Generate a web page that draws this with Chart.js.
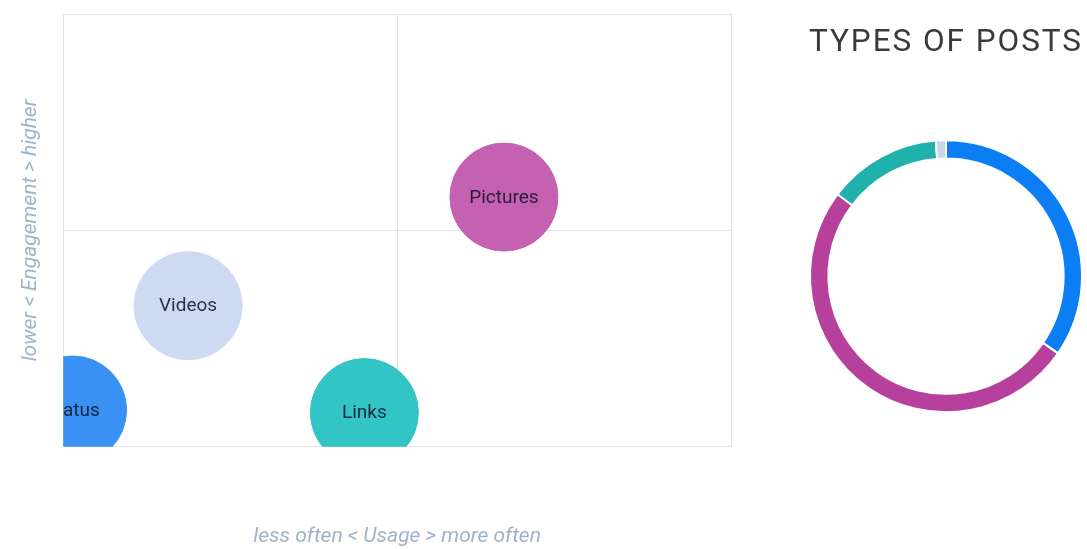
<!DOCTYPE html>
<html>
<head>
<meta charset="utf-8">
<script src="https://cdn.jsdelivr.net/npm/chart.js@4.4.1/dist/chart.umd.min.js"></script>
<style>
  body { margin: 0; background: #fff; }
  #bubble-wrap { position: absolute; left: 0; top: 0; width: 760px; height: 549px; }
  #donut-wrap { position: absolute; left: 805px; top: 0; width: 282px; height: 549px; }
</style>
</head>
<body>
<div id="bubble-wrap"><canvas id="bubble-chart"></canvas></div>
<div id="donut-wrap"><canvas id="donut-chart"></canvas></div>
<script>
// bubble data: usage (x), engagement (y), bubble size
const postTypes = ['Status', 'Pictures', 'Videos', 'Links'];
const usage = [1.4, 66, 18.7, 45.1];
const engagement = [8.5, 57.7, 32.6, 7.9];
const bubbleSize = [54, 54, 54, 54];

// doughnut data: share of posts by type
const shareLabels = ['Status', 'Pictures', 'Links', 'Videos'];
const shareValues = [34.6, 50.7, 13.5, 1.2];

const bubbleColors = {
    Status: '#3a91f4',
    Pictures: '#c561b1',
    Videos: '#cddaf1',
    Links: '#33c4c6'
};
const ringColors = {
    Status: '#0a7ef2',
    Pictures: '#b8409d',
    Links: '#1fb1ab',
    Videos: '#c7d5ee'
};

Chart.defaults.font.family = 'Roboto, sans-serif';
Chart.defaults.animation = false;

const gridColor = '#e3e3e3';
const axisTitleColor = '#9fb3c8';

// writes the type name inside each bubble, clipped to the plot area
const bubbleLabels = {
    id: 'bubbleLabels',
    afterDatasetsDraw(chart) {
        const { ctx, chartArea } = chart;
        const meta = chart.getDatasetMeta(0);
        ctx.save();
        ctx.beginPath();
        ctx.rect(chartArea.left, chartArea.top, chartArea.right - chartArea.left, chartArea.bottom - chartArea.top);
        ctx.clip();
        ctx.font = '19px Roboto, sans-serif';
        ctx.fillStyle = 'rgba(15, 15, 35, 0.85)';
        ctx.textAlign = 'center';
        ctx.textBaseline = 'middle';
        meta.data.forEach((el, i) => {
            ctx.fillText(postTypes[i], el.x, el.y + 1);
        });
        ctx.restore();
    }
};

new Chart(document.querySelector('#bubble-chart'), {
    type: 'bubble',
    data: {
        datasets: [{
            label: 'Post types',
            data: postTypes.map((t, i) => ({ x: usage[i], y: engagement[i], r: bubbleSize[i] })),
            backgroundColor: postTypes.map(t => bubbleColors[t]),
            borderColor: postTypes.map(t => bubbleColors[t]),
            borderWidth: 1
        }]
    },
    options: {
        responsive: true,
        maintainAspectRatio: false,
        layout: { autoPadding: false, padding: { top: 14, right: 29, left: 10, bottom: 0 } },
        plugins: { legend: { display: false }, tooltip: { enabled: false } },
        scales: {
            x: {
                min: 0, max: 100,
                ticks: { display: false, stepSize: 50 },
                grid: { color: gridColor, drawTicks: false },
                border: { color: gridColor },
                title: {
                    display: true,
                    text: 'less often < Usage > more often',
                    color: axisTitleColor,
                    font: { size: 21, style: 'italic' },
                    padding: { top: 77, bottom: 0 }
                }
            },
            y: {
                min: 0, max: 100,
                ticks: { display: false, stepSize: 50 },
                grid: { color: gridColor, drawTicks: false },
                border: { color: gridColor },
                title: {
                    display: true,
                    text: 'lower < Engagement > higher',
                    color: axisTitleColor,
                    font: { size: 21, style: 'italic' },
                    padding: { top: 8, bottom: 20 }
                }
            }
        }
    },
    plugins: [bubbleLabels]
});

// a little tracking on the title text
const titleSpacing = {
    id: 'titleSpacing',
    beforeDraw(chart) { chart.ctx.letterSpacing = '2px'; },
    afterDraw(chart) { chart.ctx.letterSpacing = '0px'; }
};

new Chart(document.querySelector('#donut-chart'), {
    type: 'doughnut',
    data: {
        labels: shareLabels,
        datasets: [{
            data: shareValues,
            backgroundColor: shareLabels.map(t => ringColors[t]),
            borderColor: '#ffffff',
            borderWidth: 2
        }]
    },
    options: {
        responsive: true,
        maintainAspectRatio: false,
        cutout: '86.5%',
        layout: { padding: { top: 0, left: 4, right: 4, bottom: 69 } },
        plugins: {
            legend: { display: false },
            tooltip: { enabled: false },
            title: {
                display: true,
                text: 'TYPES OF POSTS',
                color: '#3a3a3a',
                font: { size: 32, weight: 'normal' },
                padding: { top: 24, bottom: 10 }
            }
        }
    },
    plugins: [titleSpacing]
});
</script>
</body>
</html>
